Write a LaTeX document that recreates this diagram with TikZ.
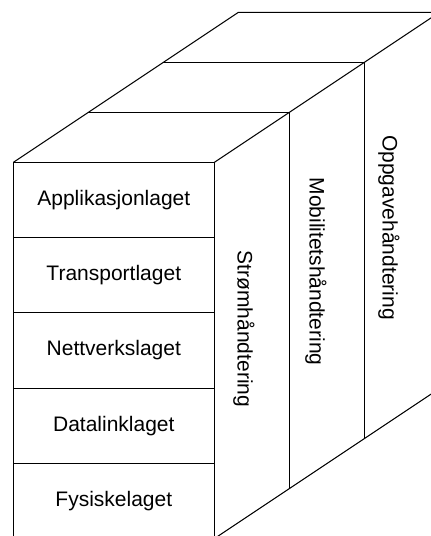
\documentclass[tikz,border=0pt]{standalone}
\usepackage{fontspec}
\setmainfont{Liberation Sans}
\usetikzlibrary{calc}
\begin{document}
\begin{tikzpicture}[x=1pt,y=-1pt,line width=1pt,
  layer/.style={draw,minimum width=201pt,minimum height=75.25pt,inner sep=0pt,outer sep=0pt,
    font=\fontsize{21}{25}\selectfont},
  sidelabel/.style={rotate=-90,inner sep=0pt,font=\fontsize{21}{25}\selectfont}]
  \useasboundingbox (0,0) rectangle (431,536);
  \clip (0,0) rectangle (431,536);
  % front face: the protocol stack
  \node[layer] (app)  at (113.8,200.0) {Applikasjonlaget};
  \node[layer] (trans) at (113.8,275.2) {Transportlaget};
  \node[layer] (nett) at (113.8,350.5) {Nettverkslaget};
  \node[layer] (data) at (113.8,425.7) {Datalinklaget};
  \node[layer] (fys)  at (113.8,501.0) {Fysiskelaget};
  % corners of the front face
  \coordinate (ftl) at (app.north west);
  \coordinate (ftr) at (app.north east);
  \coordinate (fbr) at (fys.south east);
  % top face, split into three planes
  \draw (ftl) -- ++(225,-150) -- ($(ftr)+(225,-150)$) -- (ftr);
  \draw ($(ftl)+(75,-50)$) -- ($(ftr)+(75,-50)$);
  \draw ($(ftl)+(150,-100)$) -- ($(ftr)+(150,-100)$);
  % side faces
  \draw ($(ftr)+(75,-50)$) -- ($(fbr)+(75,-50)$);
  \draw ($(ftr)+(150,-100)$) -- ($(fbr)+(150,-100)$);
  \draw ($(ftr)+(225,-150)$) -- ($(fbr)+(225,-150)$);
  \draw (fbr) -- ($(fbr)+(225,-150)$);
  % plane labels
  \node[sidelabel] (strom) at (244,329) {Strømhåndtering};
  \node[sidelabel] (mob) at (316,271.5) {Mobilitetshåndtering};
  \node[sidelabel] (opp) at (389,227.5) {Oppgavehåndtering};
\end{tikzpicture}
\end{document}
